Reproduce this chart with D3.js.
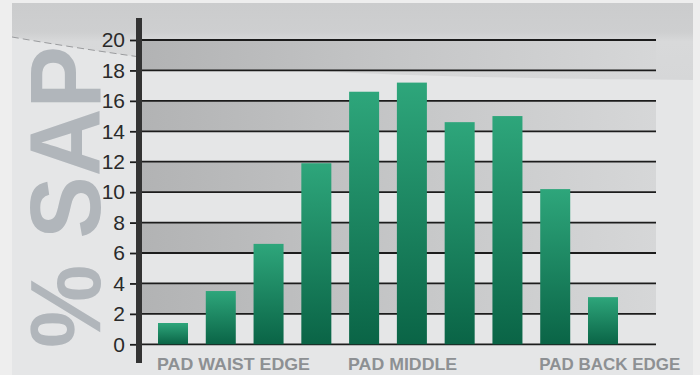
<!DOCTYPE html>
<html>
<head>
<meta charset="utf-8">
<script src="https://cdn.jsdelivr.net/npm/d3@7"></script>
<style>
  html, body { margin: 0; padding: 0; background: #eeeeee; }
  svg { display: block; }
</style>
</head>
<body>
<div id="chart"></div>
<script>
// Absorbency profile along the pad, waist edge to back edge
const positions = ["P1", "P2", "P3", "P4", "P5", "P6", "P7", "P8", "P9", "P10"];
const sapPercent = [1.4, 3.5, 6.6, 11.9, 16.6, 17.2, 14.6, 15.0, 10.2, 3.1];
const yTicks = [0, 2, 4, 6, 8, 10, 12, 14, 16, 18, 20];
const zoneLabels = ["PAD WAIST EDGE", "PAD MIDDLE", "PAD BACK EDGE"];
const zoneStart = ["P1", "P5", "P9"];
const axisTitle = "% SAP";

const W = 700, H = 375;
const svg = d3.select("#chart").append("svg")
  .attr("width", W).attr("height", H);

const defs = svg.append("defs");

const swoosh = defs.append("linearGradient").attr("id", "swoosh")
  .attr("x1", 0).attr("y1", 0).attr("x2", 0).attr("y2", 1);
[[0, "#cbcccd"], [0.38, "#cecfd0"], [0.5, "#d8d9da"], [1, "#d6d7d8"]]
  .forEach(([o, c]) => swoosh.append("stop").attr("offset", o).attr("stop-color", c));

const band = defs.append("linearGradient").attr("id", "band")
  .attr("x1", 0).attr("y1", 0).attr("x2", 1).attr("y2", 0);
[[0, "#b2b3b4"], [0.5, "#c5c6c7"], [1, "#d6d7d8"]]
  .forEach(([o, c]) => band.append("stop").attr("offset", o).attr("stop-color", c));

const barFill = defs.append("linearGradient").attr("id", "barFill")
  .attr("x1", 0).attr("y1", 0).attr("x2", 0).attr("y2", 1);
[[0, "#2ea67b"], [1, "#0a6446"]]
  .forEach(([o, c]) => barFill.append("stop").attr("offset", o).attr("stop-color", c));

// card background with the grey swoosh across the top
svg.append("rect").attr("x", 12).attr("y", 3).attr("width", 681).attr("height", 372)
  .attr("fill", "#e5e6e7");
svg.append("path")
  .attr("d", "M12,3 L693,3 L693,80 C 520,79 260,74 140,57 C 90,50 40,42 12,37 Z")
  .attr("fill", "url(#swoosh)");
svg.append("path")
  .attr("d", "M12,37 C 40,42 90,50 140,57")
  .attr("fill", "none").attr("stroke", "#7d7f82").attr("stroke-width", 1)
  .attr("stroke-dasharray", "7 4").attr("opacity", 0.7);

// scales
const x = d3.scaleBand().domain(positions).range([158, 618])
  .paddingInner(0.372).paddingOuter(0);
const y = d3.scaleLinear().domain([0, 20]).range([344.3, 40]);

const plotLeft = 142, plotRight = 656;

// alternating bands between gridlines
const bandPairs = d3.pairs(yTicks).filter((d, i) => i % 2 === 1);
svg.append("g").selectAll("rect").data(bandPairs).join("rect")
  .attr("x", plotLeft).attr("width", plotRight - plotLeft)
  .attr("y", d => y(d[1])).attr("height", d => y(d[0]) - y(d[1]))
  .attr("fill", "url(#band)");

// gridlines
svg.append("g").selectAll("line").data(yTicks).join("line")
  .attr("x1", plotLeft).attr("x2", plotRight)
  .attr("y1", d => y(d)).attr("y2", d => y(d))
  .attr("stroke", "#1c1c1c").attr("stroke-width", 1.8);

// big rotated axis title
svg.append("text")
  .attr("transform", "translate(100,348) rotate(-90)")
  .attr("text-anchor", "start")
  .attr("textLength", 302).attr("lengthAdjust", "spacingAndGlyphs")
  .style("font-family", "'Liberation Sans', Arial, sans-serif")
  .style("font-weight", "bold").style("font-size", "100px")
  .attr("fill", "#b1b6bb")
  .text(axisTitle);

// y axis
const yAxis = d3.axisLeft(y).tickValues(yTicks).tickSize(6).tickPadding(5)
  .tickFormat(d3.format("d"));
const gy = svg.append("g").attr("transform", "translate(136,0)").call(yAxis);
gy.select(".domain").remove();
gy.selectAll(".tick line").attr("stroke", "#1c1c1c").attr("stroke-width", 1.8);
gy.selectAll(".tick text")
  .style("font-family", "'Liberation Sans Narrow', 'Liberation Sans', Arial, sans-serif")
  .style("font-size", "21px").attr("fill", "#2a2a2a");
svg.append("rect").attr("x", 136).attr("y", 18).attr("width", 6).attr("height", 345)
  .attr("fill", "#333333");

// bars
svg.append("g").selectAll("rect").data(sapPercent).join("rect")
  .attr("x", (d, i) => x(positions[i]))
  .attr("width", x.bandwidth())
  .attr("y", d => y(d))
  .attr("height", d => y(0) - y(d))
  .attr("fill", "url(#barFill)");

// zone labels under the bars
svg.append("g").selectAll("text").data(zoneLabels).join("text")
  .attr("x", (d, i) => x(zoneStart[i]) - 1)
  .attr("y", 370)
  .style("font-family", "'Liberation Sans', Arial, sans-serif")
  .style("font-weight", "bold").style("font-size", "17px")
  .attr("fill", "#8d9093")
  .attr("textLength", (d, i) => [153, 109, 141][i])
  .attr("lengthAdjust", "spacingAndGlyphs")
  .text(d => d);
</script>
</body>
</html>
